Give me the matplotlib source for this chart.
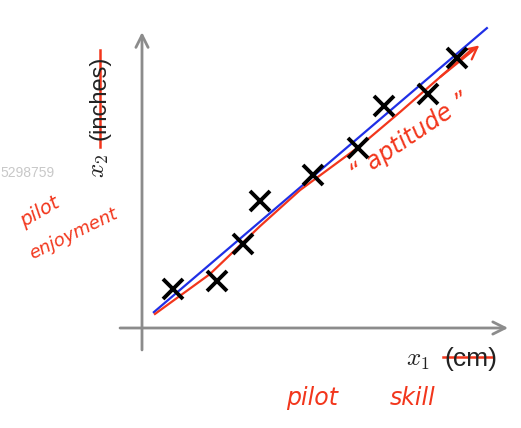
import matplotlib
matplotlib.use("Agg")
import matplotlib.pyplot as plt

plt.rcParams['mathtext.fontset'] = 'cm'

# data points (x1, x2), axis origin at (0, 0)
pts_x = [0.86, 2.08, 2.81, 3.28, 4.75, 6.00, 6.72, 7.94, 8.75]
pts_y = [1.08, 1.31, 2.33, 3.53, 4.25, 5.00, 6.17, 6.50, 7.50]

# blue fitted line (end points)
blue_x = [0.33, 9.58]
blue_y = [0.44, 8.33]

# hand-drawn red direction
red_x = [0.36, 1.89, 3.28, 4.39, 6.06, 7.17, 8.28, 9.17]
red_y = [0.39, 1.50, 2.83, 3.83, 5.06, 6.00, 6.97, 7.75]

xlabel = "(cm)"
ylabel = "(inches)"
red = "#f2361c"
gray = "#8c8c8c"

fig = plt.figure(figsize=(5.21, 4.28), dpi=100)
ax = fig.add_axes([0, 0, 1, 1])
ax.set_xlim(-142 / 36, (521 - 142) / 36)
ax.set_ylim((328 - 428) / 36, 328 / 36)
ax.axis('off')

# axes with open arrow heads
arr = dict(arrowstyle='->', color=gray, lw=2, mutation_scale=22, shrinkA=0, shrinkB=0)
ax.annotate("", xy=(10.17, 0), xytext=(-0.61, 0), arrowprops=arr)
ax.annotate("", xy=(0, 8.22), xytext=(0, -0.61), arrowprops=arr)

ax.plot(blue_x, blue_y, color="#1f2fe6", lw=1.6, zorder=3)
ax.plot(red_x, red_y, color=red, lw=1.6, zorder=4)
ax.annotate("", xy=(red_x[-1] + 0.2, red_y[-1] + 0.1), xytext=(red_x[-2], red_y[-2]),
            arrowprops=dict(arrowstyle='->', color=red, lw=1.6, mutation_scale=22,
                            shrinkA=0, shrinkB=0), zorder=4)

ax.plot(pts_x, pts_y, 'x', color='black', ms=14, mew=2.8, zorder=5)

# axis labels
ax.text(7.65, -0.88, "$x_1$", fontsize=18, ha='center', va='center', color='#222')
ax.text(9.13, -0.86, xlabel, fontsize=19, family='Liberation Sans', ha='center', va='center', color='#222')
ax.plot([8.36, 9.72], [-0.81, -0.81], color=red, lw=1.8)

ax.text(-1.2, 4.5, "$x_2$", fontsize=18, rotation=90, ha='center', va='center', color='#222')
ax.text(-1.17, 6.4, ylabel, fontsize=17, family='Liberation Sans', rotation=90,
        ha='center', va='center', color='#222')
ax.plot([-1.17, -1.17], [5.03, 7.72], color=red, lw=1.8)

# handwritten annotations
ax.text(4.72, -1.94, "pilot", fontsize=17, color=red, ha='center', va='center', style='italic')
ax.text(7.53, -1.94, "skill", fontsize=17, color=red, ha='center', va='center', style='italic')
ax.text(-2.83, 3.22, "pilot", fontsize=14, color=red, ha='center', va='center', rotation=30, style='italic')
ax.text(-1.9, 2.62, "enjoyment", fontsize=13, color=red, ha='center', va='center', rotation=26, style='italic')
ax.text(7.44, 5.31, "\u201c aptitude \u201d", fontsize=17, color=red, ha='center', va='center', rotation=34, style='italic')

# faint watermark at the left edge
ax.text(-142 / 36, (328 - 173) / 36, "5298759", fontsize=10, family='Liberation Sans',
        color='#c8c8c8', ha='left', va='center')

fig.savefig("out.png", dpi=100)
